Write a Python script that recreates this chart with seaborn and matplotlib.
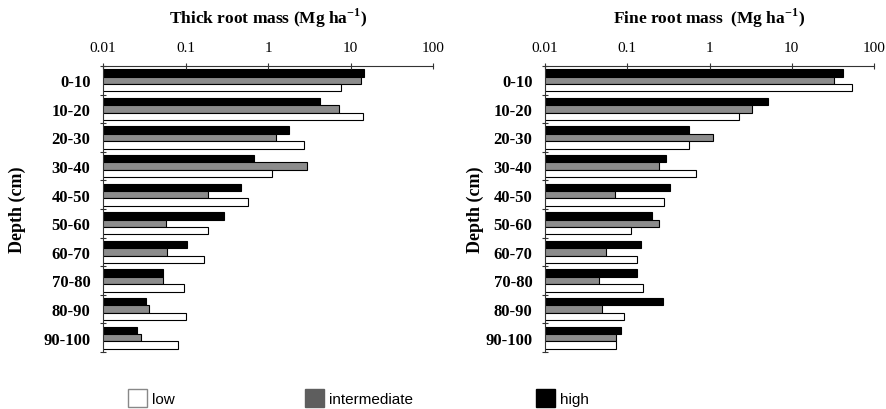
import numpy as np
import pandas as pd
import matplotlib
matplotlib.use('Agg')
import matplotlib.pyplot as plt
import seaborn as sns
from matplotlib.patches import Patch
from matplotlib.ticker import NullLocator

# data (Mg ha-1)
depths = ['0-10', '10-20', '20-30', '30-40', '40-50', '50-60', '60-70', '70-80', '80-90', '90-100']
levels = ['high', 'intermediate', 'low']

thick_high = [14.5, 4.3, 1.8, 0.68, 0.47, 0.29, 0.104, 0.054, 0.033, 0.026]
thick_inter = [13.4, 7.3, 1.25, 2.97, 0.19, 0.058, 0.06, 0.053, 0.036, 0.029]
thick_low = [7.6, 14.0, 2.7, 1.12, 0.57, 0.19, 0.167, 0.095, 0.102, 0.082]

fine_high = [42, 5.1, 0.56, 0.30, 0.33, 0.20, 0.145, 0.13, 0.27, 0.085]
fine_inter = [33, 3.3, 1.1, 0.24, 0.071, 0.24, 0.055, 0.045, 0.049, 0.074]
fine_low = [54, 2.3, 0.56, 0.68, 0.28, 0.11, 0.13, 0.155, 0.091, 0.074]

xticks = [0.01, 0.1, 1, 10, 100]
xticklabels = ['0.01', '0.1', '1', '10', '100']

titles = [r'Thick root mass (Mg ha$^{\mathbf{-1}}$)', r'Fine root mass  (Mg ha$^{\mathbf{-1}}$)']
colors = {'high': 'black', 'intermediate': '#8c8c8c', 'low': 'white'}


def make_df(high, inter, low):
    rows = []
    for lev, vals in zip(levels, [high, inter, low]):
        for d, v in zip(depths, vals):
            rows.append({'depth': d, 'level': lev, 'mass': v})
    return pd.DataFrame(rows)


plt.rcParams['font.family'] = ['Liberation Serif', 'DejaVu Serif']
plt.rcParams['mathtext.fontset'] = 'custom'
plt.rcParams['mathtext.rm'] = 'Liberation Serif'
plt.rcParams['mathtext.bf'] = 'Liberation Serif:bold'

fig = plt.figure(figsize=(8.86, 4.10), dpi=100)
ax1 = fig.add_axes([103 / 886, 1 - 353 / 410, 330 / 886, 286 / 410])
ax2 = fig.add_axes([545 / 886, 1 - 353 / 410, 329 / 886, 286 / 410])

panels = [(ax1, make_df(thick_high, thick_inter, thick_low), titles[0], 77),
          (ax2, make_df(fine_high, fine_inter, fine_low), titles[1], 61)]

for ax, df, title, lab_off in panels:
    ax.set_xscale('log')
    sns.barplot(data=df, x='mass', y='depth', hue='level', hue_order=levels,
                palette=colors, orient='h', width=0.78, edgecolor='black',
                linewidth=0.8, errorbar=None, legend=False, ax=ax)
    ax.set_xlim(0.01, 100)
    ax.set_ylim(9.5, -0.5)

    ax.xaxis.tick_top()
    ax.set_xticks(xticks)
    ax.set_xticklabels(xticklabels, fontsize=11)
    ax.xaxis.set_minor_locator(NullLocator())
    ax.tick_params(axis='x', direction='inout', length=5, width=0.8, pad=6, colors='#333333',
                   labelcolor='black')
    ax.set_xlabel('')

    ax.set_yticks(np.arange(-0.5, 10, 1), minor=True)
    ax.tick_params(axis='y', which='major', length=0, pad=9)
    ax.tick_params(axis='y', which='minor', direction='inout', length=4, width=0.8, colors='#333333')
    for lab in ax.get_yticklabels():
        lab.set_fontweight('bold')
        lab.set_fontsize(12)

    for s in ['right', 'bottom']:
        ax.spines[s].set_visible(False)
    for s in ['top', 'left']:
        ax.spines[s].set_linewidth(0.8)
        ax.spines[s].set_color('#333333')

    ax.set_ylabel('Depth (cm)', fontsize=13, fontweight='bold')
    ax.yaxis.set_label_coords(-lab_off / ax.bbox.width, 0.5)

    ax.text(0.5, 1.171, title, transform=ax.transAxes, ha='center', va='center',
            fontsize=12.5, fontweight='bold')

# legend at the bottom, one entry per box
legend_entries = [('low', 'white', '#888888', 128 / 886),
                  ('intermediate', '#5e5e5e', '#5e5e5e', 305 / 886),
                  ('high', 'black', 'black', 536 / 886)]
for name, fc, ec, xpos in legend_entries:
    fig.legend(handles=[Patch(facecolor=fc, edgecolor=ec, linewidth=1)], labels=[name],
               loc='center left', bbox_to_anchor=(xpos, 1 - 399 / 410), frameon=False,
               handlelength=1.25, handleheight=1.35, handletextpad=0.35, borderpad=0, borderaxespad=0,
               prop={'family': 'Liberation Sans', 'size': 11})

fig.savefig('out.png', dpi=100)
